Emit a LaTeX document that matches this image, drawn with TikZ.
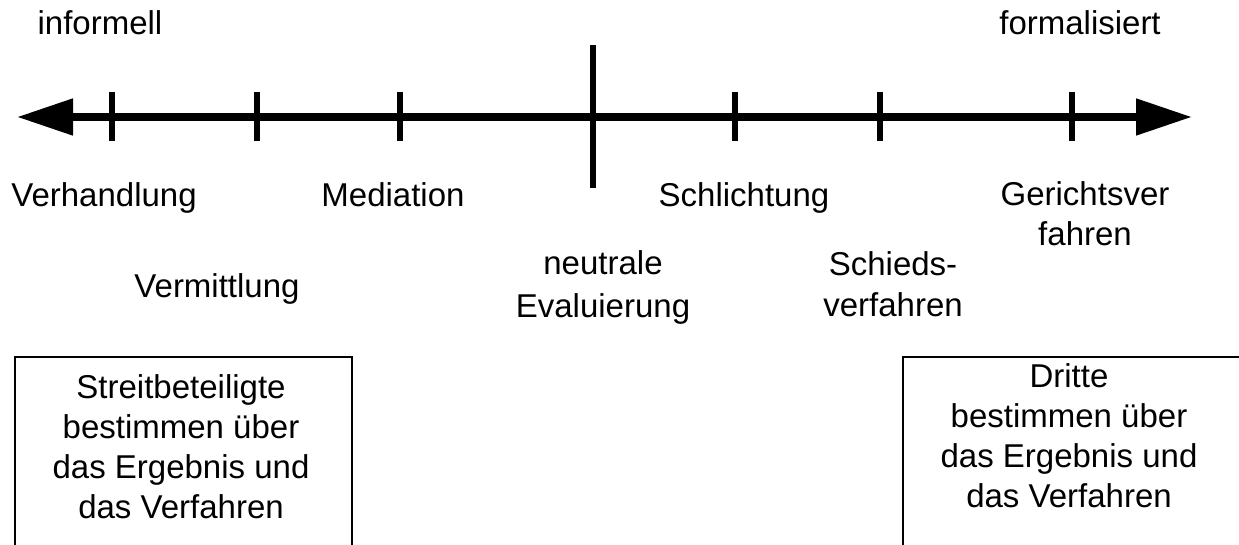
\documentclass[tikz,border=0pt]{standalone}
\usepackage{fontspec}
\setmainfont{Liberation Sans}
\usetikzlibrary{arrows.meta}
\newcommand\mlines[1]{\begin{tabular}[t]{@{}c@{}}#1\end{tabular}}
\tikzset{
  lbl/.style={anchor=base, inner sep=0pt, font=\fontsize{33}{40}\selectfont},
  tickmark/.style={line width=6.5pt},
  axis/.style={line width=8pt, {Triangle[length=56pt,width=35pt]}-{Triangle[length=56pt,width=35pt]}},
  boxline/.style={line width=2pt}
}
\begin{document}
\begin{tikzpicture}[x=1pt,y=-1pt]
\useasboundingbox (0,0) rectangle (1239,545);
\clip (0,0) rectangle (1239,545);
% axis
\coordinate (L) at (17,117);
\coordinate (R) at (1192,117);
\draw[axis] (L) -- (R);
% ticks
\foreach \x/\n in {112/t1,257/t2,400/t3,735/t5,880/t6,1072/t7}{
  \coordinate (\n a) at (\x,92);
  \coordinate (\n b) at (\x,141);
  \draw[tickmark] (\n a) -- (\n b);
}
\coordinate (cA) at (593,45);
\coordinate (cB) at (593,188);
\draw[tickmark] (cA) -- (cB);
% labels
\node[lbl] (informell) at (100,35) {informell};
\node[lbl] (formal) at (1080,35) {formalisiert};
\node[lbl] (verh) at (104,207) {Verhandlung};
\node[lbl] (med) at (393,207) {Mediation};
\node[lbl] (schl) at (744,207) {Schlichtung};
\node[lbl] (ger) at (1085,206) {\mlines{Gerichtsver\\fahren}};
\node[lbl] (verm) at (217,298) {Vermittlung};
\node[lbl, font=\fontsize{33}{43}\selectfont] (neutr) at (603,275) {\mlines{neutrale\\Evaluierung}};
\node[lbl, font=\fontsize{33}{41}\selectfont] (schieds) at (893,276) {\mlines{Schieds-\\verfahren}};
% boxes
\coordinate (b1a) at (15,357);
\coordinate (b1b) at (352,570);
\draw[boxline] (b1a) rectangle (b1b);
\node[lbl] (streit) at (181,398) {\mlines{Streitbeteiligte\\bestimmen über\\das Ergebnis und\\das Verfahren}};
\coordinate (b2a) at (903,357);
\coordinate (b2b) at (1260,570);
\draw[boxline] (b2a) rectangle (b2b);
\node[lbl] (dritte) at (1069,387) {\mlines{Dritte\\bestimmen über\\das Ergebnis und\\das Verfahren}};
\end{tikzpicture}
\end{document}
